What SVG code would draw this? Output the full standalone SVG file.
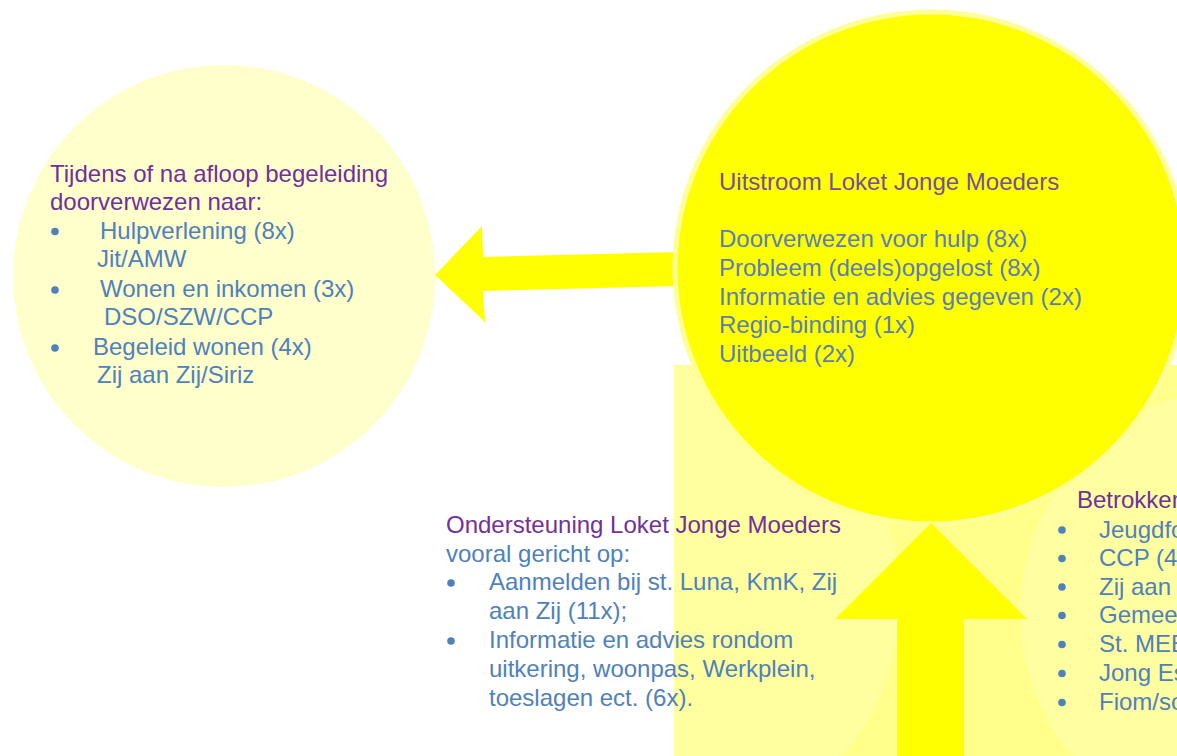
<svg xmlns="http://www.w3.org/2000/svg" width="1177" height="756" viewBox="0 0 1177 756">
<style>
text{font-family:"Liberation Sans",Arial,sans-serif;font-size:24px}
.h{fill:#7030a0}
.hb{fill:#765098}
.b{fill:#4f81bd}
.bb{fill:#5a7fb4}
.dot{fill:#4f81bd}
</style>
<rect width="1177" height="756" fill="#ffffff"/>
<g id="background">
<rect x="674" y="365" width="503" height="391" fill="#ffff8a"/>
<circle cx="660" cy="600" r="240" fill="#ffffff" fill-opacity="0.18"/>
<circle cx="1245" cy="612" r="225" fill="#ffffff" fill-opacity="0.2"/>
</g>
<g id="node-left">
<circle cx="224" cy="276" r="211" fill="#ffffcc"/>
<text class="h" x="50" y="182">Tijdens of na afloop begeleiding</text>
<text class="h" x="50" y="210">doorverwezen naar:</text>
<circle class="dot" cx="55" cy="231.5" r="3.8"/>
<text class="b" x="100" y="239">Hulpverlening (8x)</text>
<text class="b" x="97" y="267">Jit/AMW</text>
<circle class="dot" cx="55" cy="290" r="3.8"/>
<text class="b" x="100" y="297">Wonen en inkomen (3x)</text>
<text class="b" x="104" y="325">DSO/SZW/CCP</text>
<circle class="dot" cx="55" cy="348" r="3.8"/>
<text class="b" x="93" y="355">Begeleid wonen (4x)</text>
<text class="b" x="97" y="383">Zij aan Zij/Siriz</text>
</g>
<g id="connectors">
<polygon points="435,275 482,226 483,257 680,252 680,286 483,291 485,322" fill="#ffff00"/>
</g>
<g id="node-uitstroom">
<circle cx="931" cy="268" r="256" fill="#ffff00" stroke="#ffff99" stroke-width="5"/>
<text class="hb" x="719" y="190">Uitstroom Loket Jonge Moeders</text>
<text class="bb" x="719" y="247">Doorverwezen voor hulp (8x)</text>
<text class="bb" x="719" y="275.8">Probleem (deels)opgelost (8x)</text>
<text class="bb" x="719" y="304.6">Informatie en advies gegeven (2x)</text>
<text class="bb" x="719" y="333.4">Regio-binding (1x)</text>
<text class="bb" x="719" y="362.2">Uitbeeld (2x)</text>
</g>
<g id="connector-up">
<polygon points="931,523 1027,619 964,619 964,756 897,756 897,619 835,619" fill="#ffff00"/>
</g>
<g id="node-ondersteuning">
<text class="h" x="446" y="533">Ondersteuning Loket Jonge Moeders</text>
<text class="b" x="446" y="561.5">vooral gericht op:</text>
<circle class="dot" cx="451" cy="583" r="3.8"/>
<text class="b" x="489" y="590">Aanmelden bij st. Luna, KmK, Zij</text>
<text class="b" x="489" y="619">aan Zij (11x);</text>
<circle class="dot" cx="451" cy="641" r="3.8"/>
<text class="b" x="489" y="648">Informatie en advies rondom</text>
<text class="b" x="489" y="677">uitkering, woonpas, Werkplein,</text>
<text class="b" x="489" y="705.5">toeslagen ect. (6x).</text>
</g>
<g id="node-betrokken">
<text class="h" x="1077" y="507.5">Betrokken</text>
<circle class="dot" cx="1062" cy="530" r="3.8"/>
<text class="b" x="1099" y="537.5">Jeugdfo</text>
<circle class="dot" cx="1062" cy="558.5" r="3.8"/>
<text class="b" x="1099" y="566">CCP (4</text>
<circle class="dot" cx="1062" cy="587" r="3.8"/>
<text class="b" x="1099" y="594.5">Zij aan</text>
<circle class="dot" cx="1062" cy="615.5" r="3.8"/>
<text class="b" x="1099" y="623">Gemee</text>
<circle class="dot" cx="1062" cy="644.5" r="3.8"/>
<text class="b" x="1099" y="652">St. MEE</text>
<circle class="dot" cx="1062" cy="673.5" r="3.8"/>
<text class="b" x="1099" y="681">Jong Es</text>
<circle class="dot" cx="1062" cy="702.5" r="3.8"/>
<text class="b" x="1099" y="710">Fiom/so</text>
</g>
</svg>
